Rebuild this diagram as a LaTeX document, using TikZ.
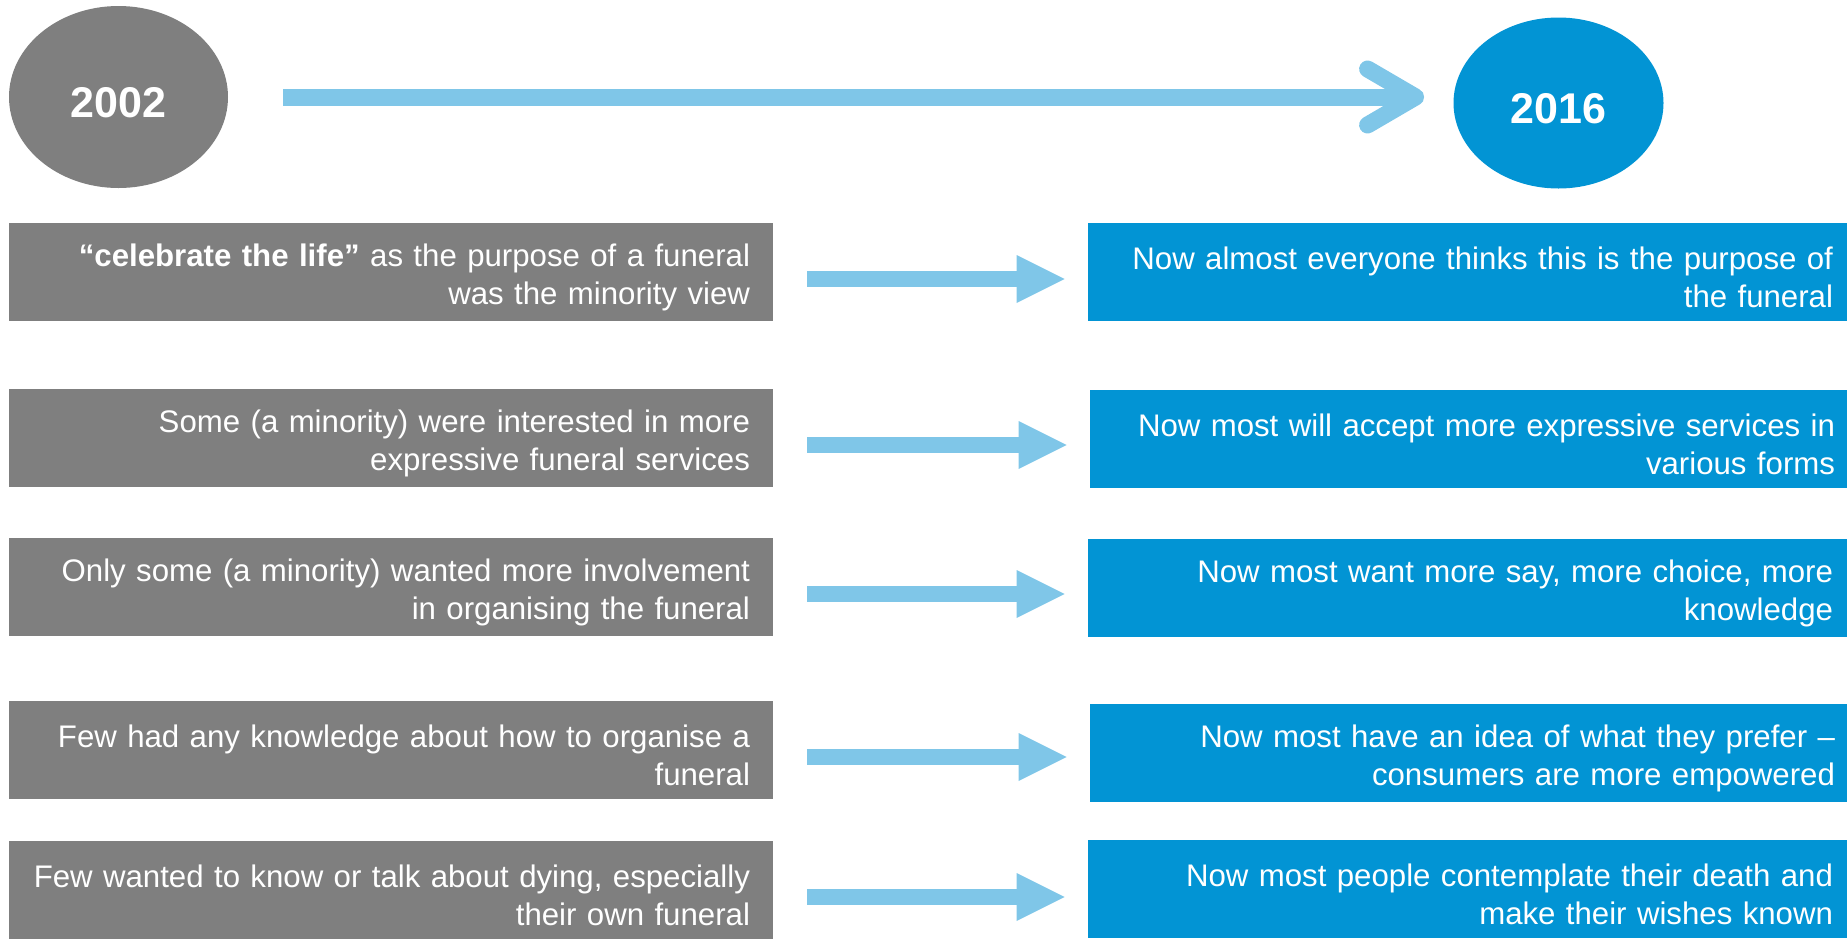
\documentclass[tikz,border=0pt]{standalone}
\usepackage{fontspec}
\setmainfont{Liberation Sans}
\usepackage{xcolor}
\definecolor{oldgrey}{RGB}{127,127,127}
\definecolor{newblue}{RGB}{2,148,212}
\definecolor{arrowblue}{RGB}{127,198,232}
\usetikzlibrary{arrows.meta,shapes.geometric}
\tikzset{
  yearold/.style  ={ellipse,fill=oldgrey,text=white,inner sep=0pt,text height=20pt,text depth=0pt,
                    minimum width=109.5pt,minimum height=91pt,font=\fontsize{21.5}{25}\selectfont\bfseries},
  yearnew/.style  ={ellipse,fill=newblue,text=white,inner sep=0pt,text height=20pt,text depth=0pt,
                    minimum width=105pt,minimum height=85.5pt,font=\fontsize{21.5}{25}\selectfont\bfseries},
  oldbox/.style   ={rectangle,fill=oldgrey,text=white,align=right,inner xsep=11.5pt,
                    text width=359pt,minimum height=49pt,font=\fontsize{15.6}{18.9}\selectfont,
                    execute at begin node={\rule{0pt}{16.5pt}}},
  newbox/.style   ={rectangle,fill=newblue,text=white,align=right,inner xsep=7pt,
                    text width=365.5pt,minimum height=49pt,font=\fontsize{15.6}{18.9}\selectfont,
                    execute at begin node={\rule{0pt}{16.5pt}}},
  timeline/.style ={line width=8.5pt,draw=arrowblue,shorten <=27.5pt,shorten >=14.5pt,
                    -{Straight Barb[length=24pt,width=28pt,round]}},
  shiftarrow/.style={line width=8pt,draw=arrowblue,shorten <=17pt,shorten >=11.5pt,
                    -{Triangle[length=24pt,width=24pt,line width=0pt]}},
}

\begin{document}
\begin{tikzpicture}[x=0.5pt,y=-0.5pt]
  \useasboundingbox (0,0) rectangle (1847,938);
  % years and the timeline between them
  \node[yearold] (yold) at (118.5,97) {2002};
  \node[yearnew] (ynew) at (1558.5,103) {2016};
  \draw[timeline] (yold.east) -- (yold.east -| ynew.west);
  % then
  \node[oldbox] (old1) at (391,272) {\textbf{“celebrate the life”} as the purpose of a funeral\\was the minority view};
  \node[oldbox] (old2) at (391,438) {Some (a minority) were interested in more\\expressive funeral services};
  \node[oldbox] (old3) at (391,587) {Only some (a minority) wanted more involvement\\in organising the funeral};
  \node[oldbox] (old4) at (391,750) {Few had any knowledge about how to organise a\\funeral};
  \node[oldbox] (old5) at (391,890) {Few wanted to know or talk about dying, especially\\their own funeral};
  % now
  \node[newbox] (new1) at (1467.5,272) {Now almost everyone thinks this is the purpose of\\the funeral};
  \node[newbox] (new2) at (1469.5,439) {Now most will accept more expressive services in\\various forms};
  \node[newbox] (new3) at (1467.5,588) {Now most want more say, more choice, more\\knowledge};
  \node[newbox] (new4) at (1469.5,753) {Now most have an idea of what they prefer –\\consumers are more empowered};
  \node[newbox] (new5) at (1467.5,889) {Now most people contemplate their death and\\make their wishes known};
  \foreach \i in {1,...,5}{\draw[shiftarrow] ([yshift=-3.5pt]old\i.east) -- ([yshift=-3.5pt]old\i.east -| new\i.west);}
\end{tikzpicture}
\end{document}
